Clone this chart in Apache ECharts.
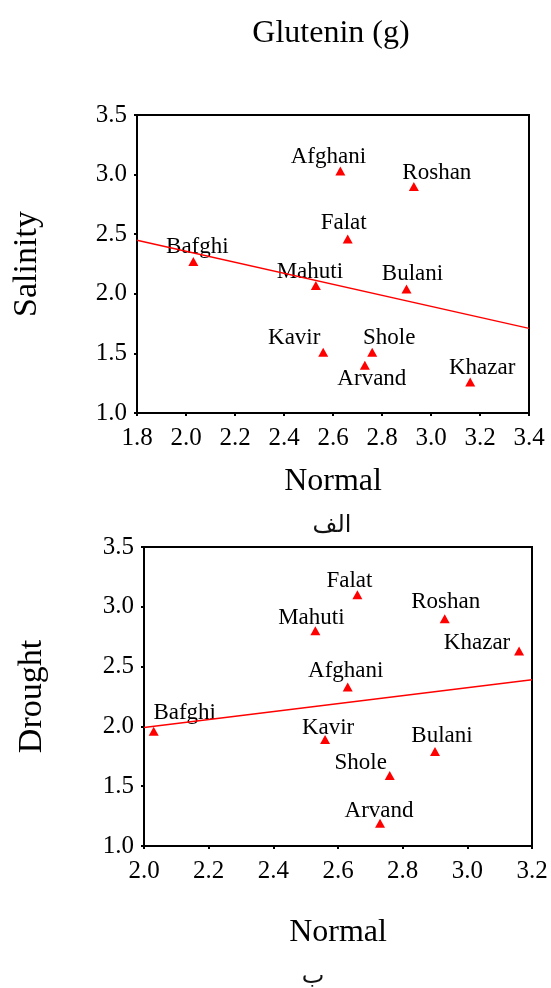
<!DOCTYPE html>
<html>
<head>
<meta charset="utf-8">
<script src="https://cdn.jsdelivr.net/npm/echarts@6/dist/echarts.min.js"></script>
<style>
  html, body { margin: 0; padding: 0; background: #fff; }
  #chart { width: 551px; height: 988px; }
</style>
</head>
<body>
<div id="chart"></div>
<script>
// cultivars, glutenin under normal conditions and under each stress
var cultivars = ['Afghani', 'Roshan', 'Falat', 'Bafghi', 'Mahuti', 'Bulani', 'Kavir', 'Shole', 'Arvand', 'Khazar'];
var normal = [2.63, 2.93, 2.66, 2.03, 2.53, 2.90, 2.56, 2.76, 2.73, 3.16];
var salinity = [3.03, 2.90, 2.46, 2.27, 2.07, 2.04, 1.51, 1.51, 1.40, 1.26];
var drought = [2.33, 2.90, 3.10, 1.96, 2.80, 1.79, 1.89, 1.59, 1.19, 2.63];

// fitted lines, read at the two ends of each x axis
var salinityFit = [[1.8, 2.45], [3.4, 1.71]];
var droughtFit = [[2.0, 1.99], [3.2, 2.39]];

// label offsets (px, label centre from marker centre)
var topOffsets = {
	Afghani: [-12, -14], Roshan: [23, -14], Falat: [-4, -16], Bafghi: [4, -15], Mahuti: [-6, -14],
	Bulani: [6, -15], Kavir: [-29, -14], Shole: [17, -14], Arvand: [7, 14], Khazar: [12, -14]
};
var bottomOffsets = {
	Afghani: [-2, -16], Roshan: [1, -17], Falat: [-8, -14], Bafghi: [31, -18], Mahuti: [-4, -13],
	Bulani: [7, -16], Kavir: [3, -12], Shole: [-29, -12], Arvand: [-1, -12], Khazar: [-42, -8]
};

var serif = 'Liberation Serif';
var red = '#ff0000';

function points(ys, offsets) {
	return cultivars.map(function (n, i) {
		return {
			name: n,
			value: [normal[i], ys[i]],
			label: { offset: offsets[n] }
		};
	});
}

function xAxisOf(idx, min, max, nameGap) {
	return {
		gridIndex: idx,
		type: 'value',
		min: min,
		max: max,
		interval: 0.2,
		name: 'Normal',
		nameLocation: 'middle',
		nameGap: nameGap,
		nameTextStyle: { fontFamily: serif, fontSize: 32, color: '#000' },
		axisLine: { show: true, onZero: false, lineStyle: { color: '#000', width: 2 } },
		axisTick: { show: true, length: 3, lineStyle: { color: '#000', width: 2 } },
		axisLabel: {
			margin: 13,
			fontFamily: serif, fontSize: 25, color: '#000',
			formatter: function (v) { return v.toFixed(1); }
		},
		splitLine: { show: false }
	};
}

function yAxisOf(idx, name, nameGap) {
	return {
		gridIndex: idx,
		type: 'value',
		min: 1.0,
		max: 3.5,
		interval: 0.5,
		name: name,
		nameLocation: 'middle',
		nameGap: nameGap,
		nameTextStyle: { fontFamily: serif, fontSize: 34, color: '#000' },
		axisLine: { show: true, onZero: false, lineStyle: { color: '#000', width: 2 } },
		axisTick: { show: true, length: 3, lineStyle: { color: '#000', width: 2 } },
		axisLabel: {
			margin: 10,
			fontFamily: serif, fontSize: 25, color: '#000',
			formatter: function (v) { return v.toFixed(1); }
		},
		splitLine: { show: false }
	};
}

function scatterOf(idx, ys, offsets) {
	return {
		type: 'scatter',
		xAxisIndex: idx,
		yAxisIndex: idx,
		symbol: 'triangle',
		symbolSize: [10, 9],
		itemStyle: { color: red, opacity: 1 },
		label: {
			show: true,
			position: 'inside',
			align: 'center',
			verticalAlign: 'middle',
			formatter: '{b}',
			fontFamily: serif,
			fontSize: 23,
			color: '#000'
		},
		data: points(ys, offsets)
	};
}

function fitOf(idx, fit) {
	return {
		type: 'line',
		xAxisIndex: idx,
		yAxisIndex: idx,
		showSymbol: false,
		symbol: 'none',
		lineStyle: { color: red, width: 1.5 },
		data: fit
	};
}

var chart = echarts.init(document.getElementById('chart'));
chart.setOption({
	animation: false,
	backgroundColor: '#fff',
	title: [
		{ text: 'Glutenin (g)', left: 326, top: 13, textAlign: 'center',
			textStyle: { fontFamily: serif, fontSize: 32, fontWeight: 'normal', color: '#000' } },
		{ text: 'الف', left: 327, top: 509, textAlign: 'center',
			textStyle: { fontFamily: 'DejaVu Sans', fontSize: 24, fontWeight: 'normal', color: '#111' } },
		{ text: 'ب', left: 308, top: 960, textAlign: 'center',
			textStyle: { fontFamily: 'DejaVu Sans', fontSize: 24, fontWeight: 'normal', color: '#111' } }
	],
	grid: [
		{ left: 137, top: 115, width: 392, height: 298, show: true, borderColor: '#000', borderWidth: 2 },
		{ left: 144, top: 547, width: 388, height: 299, show: true, borderColor: '#000', borderWidth: 2 }
	],
	xAxis: [xAxisOf(0, 1.8, 3.4, 53), xAxisOf(1, 2.0, 3.2, 71)],
	yAxis: [yAxisOf(0, 'Salinity', 93), yAxisOf(1, 'Drought', 95)],
	series: [
		scatterOf(0, salinity, topOffsets),
		fitOf(0, salinityFit),
		scatterOf(1, drought, bottomOffsets),
		fitOf(1, droughtFit)
	]
});
</script>
</body>
</html>
